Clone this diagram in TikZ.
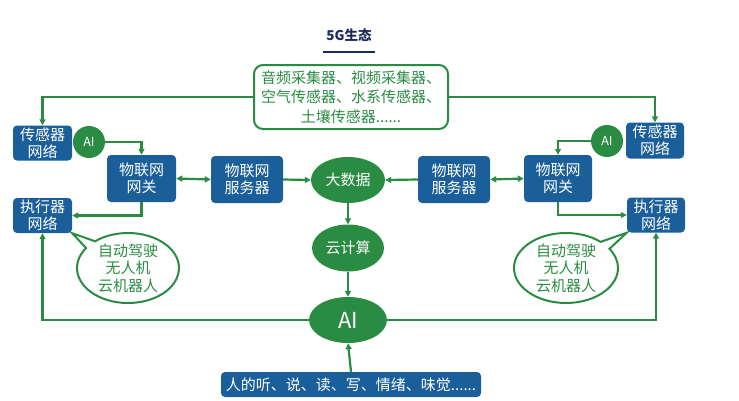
\documentclass[tikz,border=0pt]{standalone}
\usepackage{fontspec}
\setmainfont{Noto Sans CJK SC}
\usetikzlibrary{arrows.meta,shapes.geometric,shapes.callouts}
\definecolor{gblue}{HTML}{1A5E9A}
\definecolor{ggreen}{HTML}{2A8C43}
\definecolor{navy}{HTML}{1B2A5C}
\tikzset{
  bbox/.style={draw=none,fill=gblue,text=white,rounded corners=4pt,align=center,font=\fontsize{15}{17}\selectfont,inner sep=0pt},
  gell/.style={ellipse,fill=ggreen,text=white,inner sep=0pt,font=\fontsize{15}{17}\selectfont},
  aicirc/.style={circle,fill=ggreen,text=white,inner sep=0pt,minimum size=32pt,font=\fontsize{12.5}{14}\selectfont},
  conn/.style={draw=ggreen,line width=2.2pt,-{Triangle[length=6pt,width=6pt]}},
  dconn/.style={draw=ggreen,line width=2.2pt,{Triangle[length=6pt,width=6pt]}-{Triangle[length=6pt,width=6pt]}},
  bubble/.style={ellipse callout,draw=ggreen,line width=2pt,fill=white,text=ggreen,align=center,inner sep=0pt,font=\fontsize{15}{17.5}\selectfont},
}
\begin{document}
\begin{tikzpicture}[x=1pt,y=-1pt]
\useasboundingbox[fill=white] (0,0) rectangle (739,400);
% title
\node[font=\bfseries\fontsize{13.5}{15}\selectfont,text=navy] (title) at (349,35) {5G生态};
\draw[navy,line width=2.4pt] (323,52) -- (375,52);
% top box
\node[draw=ggreen,line width=2pt,fill=white,rounded corners=9pt,minimum width=194pt,minimum height=64pt,align=center,text=ggreen,inner sep=0pt,font=\fontsize{15}{19.5}\selectfont] (top) at (351,97) {音频采集器、视频采集器、\\空气传感器、水系传感器、\\土壤传感器......};
% left side
\node[bbox,minimum width=59pt,minimum height=35pt] (lsen) at (42.5,143) {传感器\\网络};
\node[bbox,minimum width=59pt,minimum height=35pt] (lexe) at (42.5,215.5) {执行器\\网络};
\node[aicirc] (lai) at (89,142) {AI};
\node[bbox,minimum width=69pt,minimum height=47pt] (lgw) at (141.5,178.5) {物联网\\网关};
\node[bbox,minimum width=72pt,minimum height=47pt] (lsv) at (247,179.5) {物联网\\服务器};
% center
\node[gell,minimum width=74pt,minimum height=46pt] (big) at (348,180) {大数据};
\node[gell,minimum width=72pt,minimum height=47pt] (cloud) at (348,248) {云计算};
\node[gell,minimum width=78pt,minimum height=46pt,font=\fontsize{22}{24}\selectfont] (ai) at (348,320) {AI};
\node[bbox,minimum width=260pt,minimum height=25pt] (human) at (351,384.5) {人的听、说、读、写、情绪、味觉......};
% right side
\node[bbox,minimum width=72pt,minimum height=47pt] (rsv) at (454,179.5) {物联网\\服务器};
\node[bbox,minimum width=68pt,minimum height=47pt] (rgw) at (558,178.5) {物联网\\网关};
\node[aicirc] (rai) at (607,141) {AI};
\node[bbox,minimum width=58pt,minimum height=36pt] (rsen) at (655,140.5) {传感器\\网络};
\node[bbox,minimum width=58pt,minimum height=35pt] (rexe) at (656,215) {执行器\\网络};
% bubbles
\node[bubble,minimum width=102pt,minimum height=70pt,callout absolute pointer={(lexe.south east)}] (lbub) at (128,268) {自动驾驶\\无人机\\云机器人};
\node[bubble,minimum width=104pt,minimum height=70pt,callout absolute pointer={(rexe.south west)}] (rbub) at (566,268) {自动驾驶\\无人机\\云机器人};
% connectors
\draw[conn] (top.west) -| (lsen.north);
\draw[conn] (top.east) -| (rsen.north);
\draw[conn] (lai.east) -| (lgw.north);
\draw[conn] (rai.west) -| (rgw.north);
\draw[conn] (lgw.south) |- (lexe.east);
\draw[conn] (rgw.south) |- (rexe.west);
\draw[dconn] (lgw.east) -- (lsv.west);
\draw[dconn] (rgw.west) -- (rsv.east);
\draw[conn] (lsv.east) -- (big.west);
\draw[conn] (rsv.west) -- (big.east);
\draw[conn] (big.south) -- (cloud.north);
\draw[conn] (cloud.south) -- (ai.north);
\draw[conn] (human.north) -- (ai.south);
\draw[conn] (ai.west) -| (lexe.south);
\draw[conn] (ai.east) -| (rexe.south);
\end{tikzpicture}
\end{document}
